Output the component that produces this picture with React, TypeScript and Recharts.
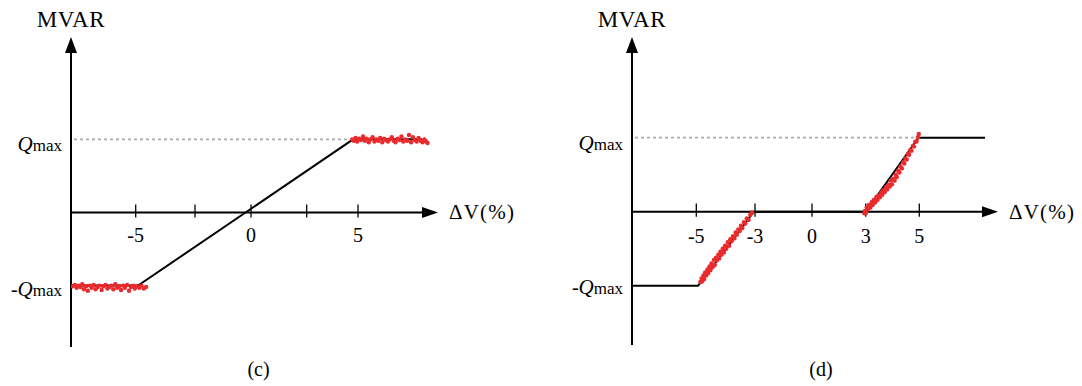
import React from 'react';
import { ComposedChart, Line, Scatter, XAxis, YAxis, ReferenceLine } from 'recharts';

const SERIF = '"Liberation Serif", "Times New Roman", Times, serif';
const INK = '#000000';
const DOT_RED = '#ea2a2c';
const GUIDE_GREY = '#ababab';

const Q_MAX = 1;

// ---------- panel (c): proportional droop with hard limits ----------
const ticksC = [-5, -2.5, 0, 2.5, 5];
const tickLabelsC = ['-5', '', '0', '', '5'];
const curveCX = [-8, -4.9, 4.76, 7.8];
const curveCY = [-1, -1, 1, 1];
const lowCX = [-7.92, -7.82, -7.74, -7.65, -7.56, -7.48, -7.4, -7.3, -7.22, -7.12, -7.04, -6.95, -6.86, -6.77, -6.68, -6.58, -6.5, -6.4, -6.31, -6.22, -6.13, -6.04, -5.95, -5.86, -5.77, -5.68, -5.58, -5.5, -5.4, -5.31, -5.22, -5.12, -5.04, -4.95, -4.85, -4.76, -4.66, -4.56];
const lowCY = [-1.01, -0.99, -1.03, -1.0, -1.02, -0.98, -1.05, -1.01, -1.07, -1.0, -1.03, -0.99, -1.05, -1.02, -1.0, -1.06, -1.01, -0.99, -1.04, -1.02, -1.0, -1.05, -0.98, -1.03, -1.01, -1.06, -1.0, -1.03, -0.99, -1.07, -1.02, -1.0, -1.04, -1.01, -1.03, -1.0, -1.04, -1.02];
const highCX = [4.72, 4.8, 4.88, 4.96, 5.05, 5.13, 5.22, 5.3, 5.38, 5.47, 5.55, 5.64, 5.72, 5.8, 5.89, 5.97, 6.06, 6.14, 6.22, 6.31, 6.39, 6.48, 6.56, 6.64, 6.73, 6.81, 6.9, 6.98, 7.06, 7.15, 7.23, 7.32, 7.4, 7.48, 7.57, 7.65, 7.74, 7.82, 7.9, 7.98, 8.04];
const highCY = [1.0, 0.98, 1.02, 0.97, 1.01, 0.99, 1.04, 0.98, 1.01, 0.96, 1.0, 1.03, 0.97, 1.0, 0.98, 1.02, 0.96, 1.01, 0.99, 0.97, 1.0, 1.03, 0.98, 0.96, 1.01, 0.99, 1.04, 0.97, 1.0, 0.98, 1.06, 0.96, 1.03, 0.99, 0.97, 1.02, 0.98, 0.96, 1.0, 0.97, 0.95];

// ---------- panel (d): dead band between -3 % and 3 % ----------
const ticksD = [-5, -3, 0, 3, 5];
const tickLabelsD = ['-5', '-3', '0', '3', '5'];
const curveDX = [-7.2, -4.94, -3.04, 3, 4.97, 7.42];
const curveDY = [-1, -1, 0, 0, 1, 1];
const lowDX = [-4.86, -4.82, -4.8, -4.76, -4.73, -4.7, -4.66, -4.62, -4.6, -4.55, -4.52, -4.48, -4.45, -4.4, -4.37, -4.33, -4.3, -4.25, -4.22, -4.18, -4.14, -4.1, -4.06, -4.02, -3.98, -3.93, -3.88, -3.84, -3.8, -3.75, -3.7, -3.66, -3.62, -3.57, -3.52, -3.48, -3.43, -3.38, -3.33, -3.28, -3.22, -3.16, -3.1];
const lowDY = [-0.95, -0.9, -0.94, -0.86, -0.91, -0.82, -0.86, -0.78, -0.83, -0.74, -0.79, -0.7, -0.75, -0.65, -0.72, -0.62, -0.66, -0.58, -0.63, -0.54, -0.58, -0.5, -0.55, -0.46, -0.5, -0.41, -0.46, -0.37, -0.4, -0.33, -0.36, -0.28, -0.31, -0.24, -0.26, -0.19, -0.22, -0.14, -0.16, -0.09, -0.11, -0.04, -0.01];
const highDX = [2.92, 2.96, 3.0, 3.04, 3.08, 3.12, 3.17, 3.22, 3.26, 3.3, 3.35, 3.4, 3.44, 3.48, 3.53, 3.58, 3.62, 3.66, 3.71, 3.76, 3.8, 3.85, 3.9, 3.94, 3.98, 4.03, 4.08, 4.12, 4.16, 4.21, 4.26, 4.3, 4.35, 4.4, 4.44, 4.48, 4.53, 4.58, 4.62, 4.66, 4.71, 4.76, 4.8, 4.85, 4.9, 4.95, 4.98];
const highDY = [-0.02, 0.01, -0.02, 0.06, 0.03, 0.09, 0.055, 0.13, 0.09, 0.16, 0.125, 0.2, 0.16, 0.22, 0.195, 0.26, 0.23, 0.29, 0.265, 0.33, 0.3, 0.365, 0.34, 0.42, 0.37, 0.445, 0.42, 0.5, 0.47, 0.555, 0.53, 0.61, 0.585, 0.67, 0.65, 0.72, 0.705, 0.78, 0.77, 0.83, 0.825, 0.89, 0.88, 0.945, 0.95, 1.005, 1.05];

// The ΔV axes are sketched by hand: each break value sits at its own distance
// (px) from the vertical axis, and values in between are interpolated linearly.
const axisStopsC = [-8, -5, -2.5, 0, 2.5, 5, 8.5];
const axisOffsetsC = [0, 64.7, 124, 180, 235.7, 287, 367];
const axisStopsD = [-7.2, -5, -3, 0, 3, 5, 7.9];
const axisOffsetsD = [0, 64.3, 123, 180, 233.7, 287.3, 366];

const pairs = (xs: number[], ys: number[]) => xs.map((x, i) => ({ x, y: ys[i] }));

function makeAxisScale(stops: number[], offsets: number[], dom0?: number[], rng0?: number[]): any {
  const span = offsets[offsets.length - 1];
  const fracs = offsets.map((o) => o / span);
  let dom: number[] = dom0 ? dom0.slice() : [stops[0], stops[stops.length - 1]];
  let rng: number[] = rng0 ? rng0.slice() : [0, 1];
  const segmentOf = (v: number) => {
    let i = 0;
    while (i < stops.length - 2 && v > stops[i + 1]) i++;
    return i;
  };
  const scale: any = (v: number) => {
    const i = segmentOf(v);
    const t = (v - stops[i]) / (stops[i + 1] - stops[i]);
    const f = fracs[i] + t * (fracs[i + 1] - fracs[i]);
    return rng[0] + f * (rng[1] - rng[0]);
  };
  scale.domain = (d?: number[]) => {
    if (d === undefined) return dom.slice();
    dom = d.slice();
    return scale;
  };
  scale.range = (r?: number[]) => {
    if (r === undefined) return rng.slice();
    rng = r.slice();
    return scale;
  };
  scale.copy = () => makeAxisScale(stops, offsets, dom, rng);
  scale.ticks = () => stops.slice(1, -1);
  scale.tickFormat = () => (v: number) => String(v);
  scale.invert = (px: number) => {
    const f = (px - rng[0]) / (rng[1] - rng[0]);
    let i = 0;
    while (i < fracs.length - 2 && f > fracs[i + 1]) i++;
    const t = (f - fracs[i]) / (fracs[i + 1] - fracs[i]);
    return stops[i] + t * (stops[i + 1] - stops[i]);
  };
  scale.clamp = () => scale;
  scale.nice = () => scale;
  return scale;
}

const textBase = { fontFamily: SERIF, fill: INK } as const;

const verticalAxisShape = (title: string) => (p: any) => {
  const x = p.x1;
  const top = Math.min(p.y1, p.y2);
  const bottom = Math.max(p.y1, p.y2);
  return (
    <g>
      <line x1={x} y1={top + 10} x2={x} y2={bottom} stroke={INK} strokeWidth={2} />
      <path d={`M${x},${top} L${x - 6},${top + 16} L${x + 6},${top + 16} Z`} fill={INK} />
      <text x={x} y={top - 10} textAnchor="middle" fontSize={23} letterSpacing={0.6} {...textBase}>
        {title}
      </text>
    </g>
  );
};

const horizontalAxisShape = (title: string) => (p: any) => {
  const y = p.y1;
  const left = Math.min(p.x1, p.x2);
  const right = Math.max(p.x1, p.x2);
  return (
    <g>
      <line x1={left} y1={y} x2={right - 10} y2={y} stroke={INK} strokeWidth={2} />
      <path d={`M${right},${y} L${right - 16},${y - 5.5} L${right - 16},${y + 5.5} Z`} fill={INK} />
      <text x={right + 11} y={y + 7} fontSize={21} letterSpacing={1.2} {...textBase}>
        {title}
      </text>
    </g>
  );
};

const tickShape = (label: string, labelDrop: number) => (p: any) => {
  const x = p.x1;
  const axisY = Math.max(p.y1, p.y2);
  const top = Math.min(p.y1, p.y2);
  return (
    <g>
      <line x1={x} y1={axisY + 5} x2={x} y2={top} stroke={INK} strokeWidth={1.3} />
      {label ? (
        <text x={x} y={axisY + labelDrop} textAnchor="middle" fontSize={20} {...textBase}>
          {label}
        </text>
      ) : null}
    </g>
  );
};

const qLabel = (negative: boolean, drop: number) => (x: number, y: number) => (
  <text x={x - 9} y={y + drop} textAnchor="end" {...textBase}>
    {negative ? <tspan fontSize={20}>-</tspan> : null}
    <tspan fontSize={21} fontStyle="italic">Q</tspan>
    <tspan fontSize={17}>max</tspan>
  </text>
);

const qMaxShape = (drop: number) => (p: any) => {
  const left = Math.min(p.x1, p.x2);
  const right = Math.max(p.x1, p.x2);
  return (
    <g>
      <line x1={left + 3} y1={p.y1} x2={right} y2={p.y2} stroke={GUIDE_GREY} strokeWidth={1.8} strokeDasharray="3 3" />
      {qLabel(false, drop)(left, p.y1)}
    </g>
  );
};

const negQShape = (drop: number) => (p: any) => <g>{qLabel(true, drop)(Math.min(p.x1, p.x2), p.y1)}</g>;

const dotShape = (p: any) => <circle cx={p.cx} cy={p.cy} r={2.2} fill={DOT_RED} />;

type PanelProps = {
  left: number;
  margin: { top: number; right: number; bottom: number; left: number };
  xDomain: [number, number];
  yDomain: [number, number];
  xScale: any;
  ticks: number[];
  tickLabels: string[];
  tickLabelDrop: number;
  curve: { x: number; y: number }[];
  dotsLow: { x: number; y: number }[];
  dotsHigh: { x: number; y: number }[];
  kneeX: number;
  qDrop: number;
  negQDrop: number;
};

function Panel(props: PanelProps) {
  const { left, margin, xDomain, yDomain, xScale, ticks, tickLabels, curve, dotsLow, dotsHigh, kneeX } = props;
  const x0 = xDomain[0];
  return (
    <div style={{ position: 'absolute', left, top: 0 }}>
      <ComposedChart width={541} height={386} margin={margin}>
        <XAxis type="number" dataKey="x" domain={xDomain} scale={xScale} allowDataOverflow hide />
        <YAxis type="number" dataKey="y" domain={yDomain} allowDataOverflow hide />
        <ReferenceLine
          segment={[{ x: x0, y: Q_MAX }, { x: kneeX, y: Q_MAX }]}
          ifOverflow="visible"
          shape={qMaxShape(props.qDrop)}
        />
        <ReferenceLine
          segment={[{ x: x0, y: -Q_MAX }, { x: x0, y: -Q_MAX }]}
          ifOverflow="visible"
          shape={negQShape(props.negQDrop)}
        />
        <Line
          data={curve}
          dataKey="y"
          type="linear"
          stroke={INK}
          strokeWidth={2}
          dot={false}
          activeDot={false}
          isAnimationActive={false}
        />
        <ReferenceLine x={x0} ifOverflow="visible" shape={verticalAxisShape('MVAR')} />
        <ReferenceLine y={0} ifOverflow="visible" shape={horizontalAxisShape('ΔV(%)')} />
        {ticks.map((t, i) => (
          <ReferenceLine
            key={t}
            segment={[{ x: t, y: 0 }, { x: t, y: 0.11 }]}
            ifOverflow="visible"
            shape={tickShape(tickLabels[i], props.tickLabelDrop)}
          />
        ))}
        <Scatter data={dotsLow} dataKey="y" shape={dotShape} isAnimationActive={false} />
        <Scatter data={dotsHigh} dataKey="y" shape={dotShape} isAnimationActive={false} />
      </ComposedChart>
    </div>
  );
}

const captionStyle = (centerX: number): React.CSSProperties => ({
  position: 'absolute',
  left: centerX - 50,
  top: 358.7,
  width: 100,
  textAlign: 'center',
  fontFamily: SERIF,
  fontSize: 20,
  lineHeight: '20px',
  color: INK,
});

export default function App() {
  return (
    <div style={{ position: 'absolute', left: 0, top: 0, width: 1082, height: 386, background: '#ffffff', overflow: 'hidden' }}>
      <Panel
        left={0}
        margin={{ top: 37, right: 103, bottom: 39, left: 71 }}
        xDomain={[-8, 8.5]}
        yDomain={[-1.84, 2.4]}
        xScale={makeAxisScale(axisStopsC, axisOffsetsC)}
        ticks={ticksC}
        tickLabels={tickLabelsC}
        tickLabelDrop={29.5}
        curve={pairs(curveCX, curveCY)}
        dotsLow={pairs(lowCX, lowCY)}
        dotsHigh={pairs(highCX, highCY)}
        kneeX={4.76}
        qDrop={12}
        negQDrop={10}
      />
      <Panel
        left={541}
        margin={{ top: 37, right: 84, bottom: 41, left: 91 }}
        xDomain={[-7.2, 7.9]}
        yDomain={[-1.8, 2.36]}
        xScale={makeAxisScale(axisStopsD, axisOffsetsD)}
        ticks={ticksD}
        tickLabels={tickLabelsD}
        tickLabelDrop={31}
        curve={pairs(curveDX, curveDY)}
        dotsLow={pairs(lowDX, lowDY)}
        dotsHigh={pairs(highDX, highDY)}
        kneeX={4.97}
        qDrop={12}
        negQDrop={8}
      />
      <div style={captionStyle(258.5)}>(c)</div>
      <div style={captionStyle(821)}>(d)</div>
    </div>
  );
}
